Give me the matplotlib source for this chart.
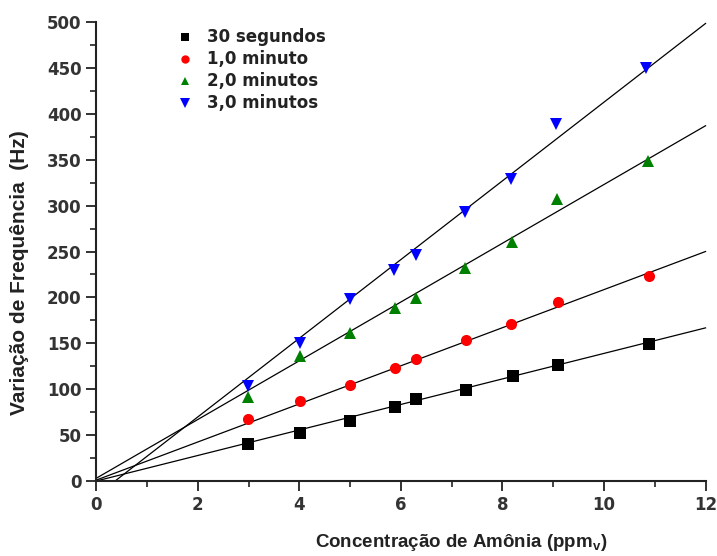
import numpy as np
import matplotlib
matplotlib.use("Agg")
import matplotlib.pyplot as plt
from matplotlib.ticker import MultipleLocator

plt.rcParams['font.family'] = ['DejaVu Sans']

# Data
x_30s = [2.99, 4.01, 5.00, 5.88, 6.29, 7.29, 8.21, 9.09, 10.88]
y_30s = [40.3, 52.6, 65.4, 80.6, 89.3, 99.1, 114.4, 126.7, 149.6]

x_1min = [2.99, 4.01, 5.00, 5.88, 6.29, 7.29, 8.16, 9.09, 10.88]
y_1min = [67.2, 87.5, 104.6, 123.4, 132.5, 153.6, 171.0, 195.0, 223.3]

x_2min = [2.99, 4.01, 5.00, 5.88, 6.29, 7.27, 8.18, 9.08, 10.87]
y_2min = [91.2, 136.2, 161.5, 188.8, 199.0, 231.7, 260.7, 307.2, 348.6]

x_3min = [2.99, 4.01, 5.00, 5.86, 6.30, 7.27, 8.17, 9.05, 10.83]
y_3min = [103.5, 150.0, 198.6, 229.8, 245.8, 292.7, 328.6, 388.5, 450.2]

# Fitted lines (slope, intercept)
fit_slopes = [13.9, 20.75, 32.0, 42.86]
fit_intercepts = [0.0, 1.0, 3.0, -15.9]

labels = ["30 segundos", "1,0 minuto", "2,0 minutos", "3,0 minutos"]
xticks = [0, 2, 4, 6, 8, 10, 12]
yticks = [0, 50, 100, 150, 200, 250, 300, 350, 400, 450, 500]

series = [
    (x_30s, y_30s, 's', '#000000', 8),
    (x_1min, y_1min, 'o', '#ff0000', 8),
    (x_2min, y_2min, '^', '#008000', 8.5),
    (x_3min, y_3min, 'v', '#0000ff', 9),
]

fig = plt.figure(figsize=(7.17, 5.56), dpi=100)
ax = fig.add_axes([0.1343, 0.1349, 0.8497, 0.8255])

handles = []
for (xs, ys, mk, col, ms), lab, m, b in zip(series, labels, fit_slopes, fit_intercepts):
    x0 = max(0.0, -b / m)
    xl = np.array([x0, 12.0])
    ax.plot(xl, m * xl + b, color='black', lw=0.9, zorder=2, clip_on=False)
    h, = ax.plot(xs, ys, linestyle='none', marker=mk, color=col,
                 markersize=ms, markeredgewidth=0, zorder=3, label=lab)
    handles.append(h)

ax.set_xlim(0, 12)
ax.set_ylim(0, 500)
ax.set_xticks(xticks)
ax.set_yticks(yticks)
ax.xaxis.set_minor_locator(MultipleLocator(1))
ax.yaxis.set_minor_locator(MultipleLocator(25))

for s in ['top', 'right']:
    ax.spines[s].set_visible(False)
for s in ['left', 'bottom']:
    ax.spines[s].set_linewidth(1.5)
    ax.spines[s].set_color('#222222')

ax.tick_params(axis='both', which='major', direction='out', length=7,
               width=1.3, color='#222222', labelsize=12, labelcolor='#333333')
ax.tick_params(axis='both', which='minor', direction='out', length=4,
               width=1.2, color='#222222')
for t in ax.get_xticklabels() + ax.get_yticklabels():
    t.set_fontweight('bold')

ax.set_ylabel("Variação de Frequência  (Hz)", fontsize=15,
              fontweight='bold', color='#222222',
              family=['Liberation Sans', 'DejaVu Sans'])
ax.yaxis.set_label_coords(-0.11, 0.455)
ax.set_xlabel("Concentração de Amônia (ppm$_\\mathregular{v}$)", fontsize=13.5,
              fontweight='bold', color='#222222',
              family=['Liberation Sans', 'DejaVu Sans'])
ax.xaxis.set_label_coords(0.599, -0.112)

leg = ax.legend(handles=handles, loc='upper left',
                bbox_to_anchor=(0.132, 0.986), frameon=False,
                prop={'weight': 'bold', 'size': 12}, labelspacing=0.24,
                handlelength=1.0, handletextpad=0.8, markerscale=0.75,
                borderaxespad=0, borderpad=0)
for t in leg.get_texts():
    t.set_color('#222222')

fig.savefig("out.png", dpi=100)
